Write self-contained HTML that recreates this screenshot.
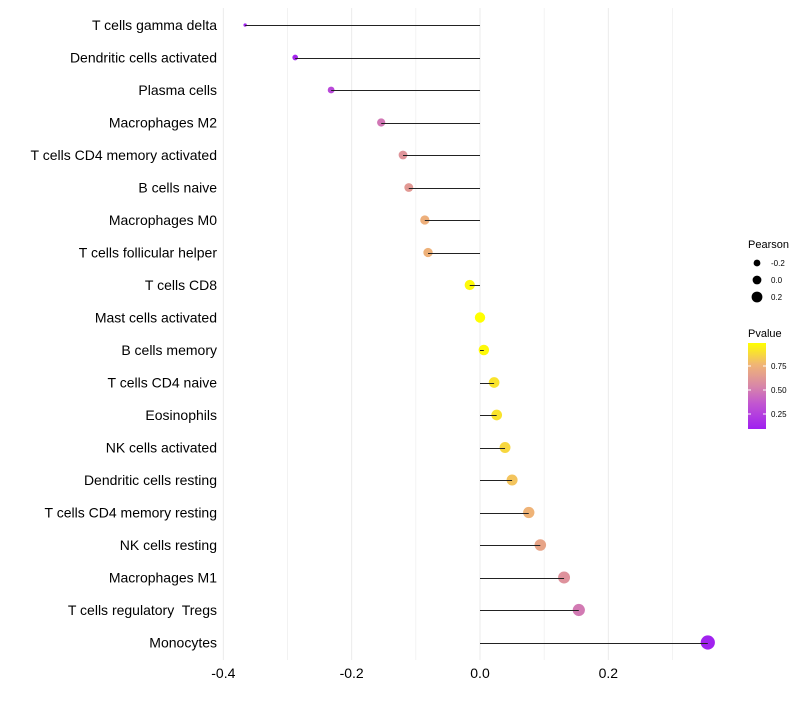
<!DOCTYPE html>
<html><head><meta charset="utf-8"><style>
body{margin:0;background:#fff;font-family:"Liberation Sans",sans-serif}
text{white-space:pre}
</style></head><body>
<svg id="c" width="800" height="700" xmlns="http://www.w3.org/2000/svg">
<defs><linearGradient id="g" x1="0" y1="1" x2="0" y2="0">
<stop offset="0" stop-color="#a020f0"/><stop offset="0.3" stop-color="#c257d0"/><stop offset="0.5" stop-color="#d887a8"/><stop offset="0.75" stop-color="#f0b575"/><stop offset="1" stop-color="#ffff00"/>
</linearGradient></defs>
</svg>
<script>
const categories=["T cells gamma delta","Dendritic cells activated","Plasma cells","Macrophages M2","T cells CD4 memory activated","B cells naive","Macrophages M0","T cells follicular helper","T cells CD8","Mast cells activated","B cells memory","T cells CD4 naive","Eosinophils","NK cells activated","Dendritic cells resting","T cells CD4 memory resting","NK cells resting","Macrophages M1","T cells regulatory  Tregs","Monocytes"];
const pearson=[-0.366,-0.288,-0.232,-0.154,-0.12,-0.111,-0.086,-0.081,-0.016,0.0,0.006,0.022,0.026,0.039,0.05,0.076,0.094,0.131,0.154,0.355];
const pvalue=[0.1,0.12,0.28,0.45,0.57,0.6,0.72,0.73,0.97,0.99,0.97,0.9,0.9,0.86,0.8,0.74,0.66,0.56,0.46,0.1];
const xticks=[-0.4,-0.2,0.0,0.2];
const xminor=[-0.3,-0.1,0.1,0.3];
const svg=document.getElementById('c');const NS="http://www.w3.org/2000/svg";
const x=v=>480+v*641.7;const y=i=>25+i*32.5;
function mk(t,a,p){const e=document.createElementNS(NS,t);for(const k in a)e.setAttribute(k,a[k]);(p||svg).appendChild(e);return e;}
const stops=[[0.09,[160,32,240]],[0.35,[194,87,208]],[0.5,[216,135,168]],[0.75,[240,181,117]],[0.99,[255,255,0]]];
function col(p){p=Math.max(0.09,Math.min(0.99,p));for(let i=0;i<stops.length-1;i++){const[a,c1]=stops[i],[b,c2]=stops[i+1];if(p<=b){const t=(p-a)/(b-a);return 'rgb('+c1.map((c,j)=>Math.round(c+(c2[j]-c)*t)).join(',')+')';}}return 'rgb(255,255,0)';}
const rad=v=>Math.sqrt(Math.max(1.5,27+66*v));
xminor.concat(xticks).forEach(v=>{const l=mk('line',{x1:x(v),x2:x(v),y1:8,y2:660,stroke:'#ebebeb','stroke-width':xticks.includes(v)?1:0.6});

});
xticks.forEach(v=>{const t=mk('text',{x:x(v),y:678,'text-anchor':'middle','font-size':14,fill:'#000'});t.textContent=v.toFixed(1);

});
categories.forEach((c,i)=>{
const t=mk('text',{x:217,y:y(i)+5,'text-anchor':'end','font-size':14,fill:'#000'});t.textContent=c;


const d=mk('circle',{cx:x(pearson[i]),cy:y(i),r:rad(pearson[i]),fill:col(pvalue[i])});


const l=mk('line',{x1:x(0),x2:x(pearson[i]),y1:Math.round(y(i))+0.5,y2:Math.round(y(i))+0.5,stroke:'#222','stroke-width':1});


});
const lg=mk('g',{});


let tt=mk('text',{x:748,y:248,'font-size':11},lg);tt.textContent='Pearson';
[[-0.2,263],[0,280],[0.2,297]].forEach(([v,yy])=>{mk('circle',{cx:757,cy:yy,r:[3.4,4.4,5.4][[-0.2,0,0.2].indexOf(v)],fill:'#000'},lg);const t=mk('text',{x:771,y:yy+3,'font-size':8},lg);t.textContent=v.toFixed(1);});
tt=mk('text',{x:748,y:337,'font-size':11},lg);tt.textContent='Pvalue';
mk('rect',{x:748,y:343,width:18,height:86,fill:'url(#g)'},lg);
[[0.75,366],[0.5,390],[0.25,414]].forEach(([v,yy])=>{mk('line',{x1:748,x2:751,y1:yy,y2:yy,stroke:'#fff'},lg);mk('line',{x1:763,x2:766,y1:yy,y2:yy,stroke:'#fff'},lg);const t=mk('text',{x:771,y:yy+3,'font-size':8},lg);t.textContent=v.toFixed(2);});
</script>
</body></html>
